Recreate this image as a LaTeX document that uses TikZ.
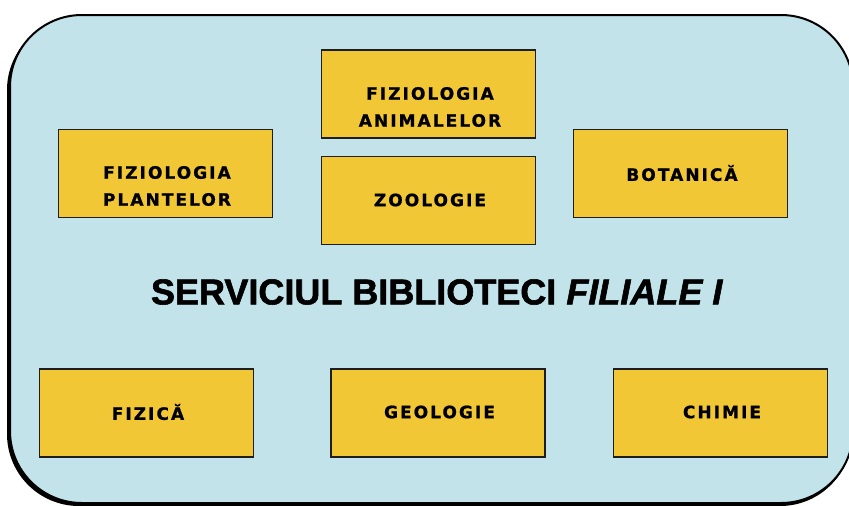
\documentclass[tikz,border=0pt]{standalone}
\usepackage{fontspec}
\newfontfamily\boxfont{DejaVu Sans}[LetterSpace=12,FakeBold=1]
\newfontfamily\titlefont{Liberation Sans}[FakeBold=1.6]
\definecolor{panelblue}{HTML}{C3E3EB}
\definecolor{boxyellow}{HTML}{F1C736}
\definecolor{boxline}{HTML}{1E1E1E}
\begin{document}
\begin{tikzpicture}[x=1pt,y=-1pt,
  subject/.style={draw=boxline,line width=1.7pt,fill=boxyellow,minimum width=214pt,minimum height=88pt,inner sep=0pt},
  label/.style={font=\boxfont\bfseries\fontsize{17}{27}\selectfont,align=center,text=black},
  heading/.style={font=\titlefont\bfseries\fontsize{36}{40}\selectfont,text=black}]
\useasboundingbox (0,0) rectangle (849,506);
% panel shadow and panel
\fill[black,rounded corners=72pt] (7,18) rectangle (852,506);
\draw[fill=panelblue,line width=2pt,rounded corners=72pt] (10,15) rectangle (853,503);
% boxes
\node[subject] (plant) at (165.5,173.5) {};
\node[subject] (anim) at (428.5,94) {};
\node[subject] (zoo) at (428.5,200.5) {};
\node[subject] (bot) at (680.5,173.5) {};
\node[subject] (fiz) at (146.5,413) {};
\node[subject] (geo) at (438,413) {};
\node[subject] (chim) at (720.5,413) {};
% labels
\node[label] (tplant) at (167,186) {FIZIOLOGIA\\PLANTELOR};
\node[label] (tanim) at (430,107) {FIZIOLOGIA\\ANIMALELOR};
\node[label] (tzoo) at (430,200) {ZOOLOGIE};
\node[label] (tbot) at (682,173) {BOTANICĂ};
\node[label] (tfiz) at (148,412) {FIZICĂ};
\node[label] (tgeo) at (439.5,412) {GEOLOGIE};
\node[label] (tchim) at (722,412) {CHIMIE};
% title
\node[heading] (title) at (437,292) {SERVICIUL BIBLIOTECI \textit{FILIALE I}};
\end{tikzpicture}
\end{document}
